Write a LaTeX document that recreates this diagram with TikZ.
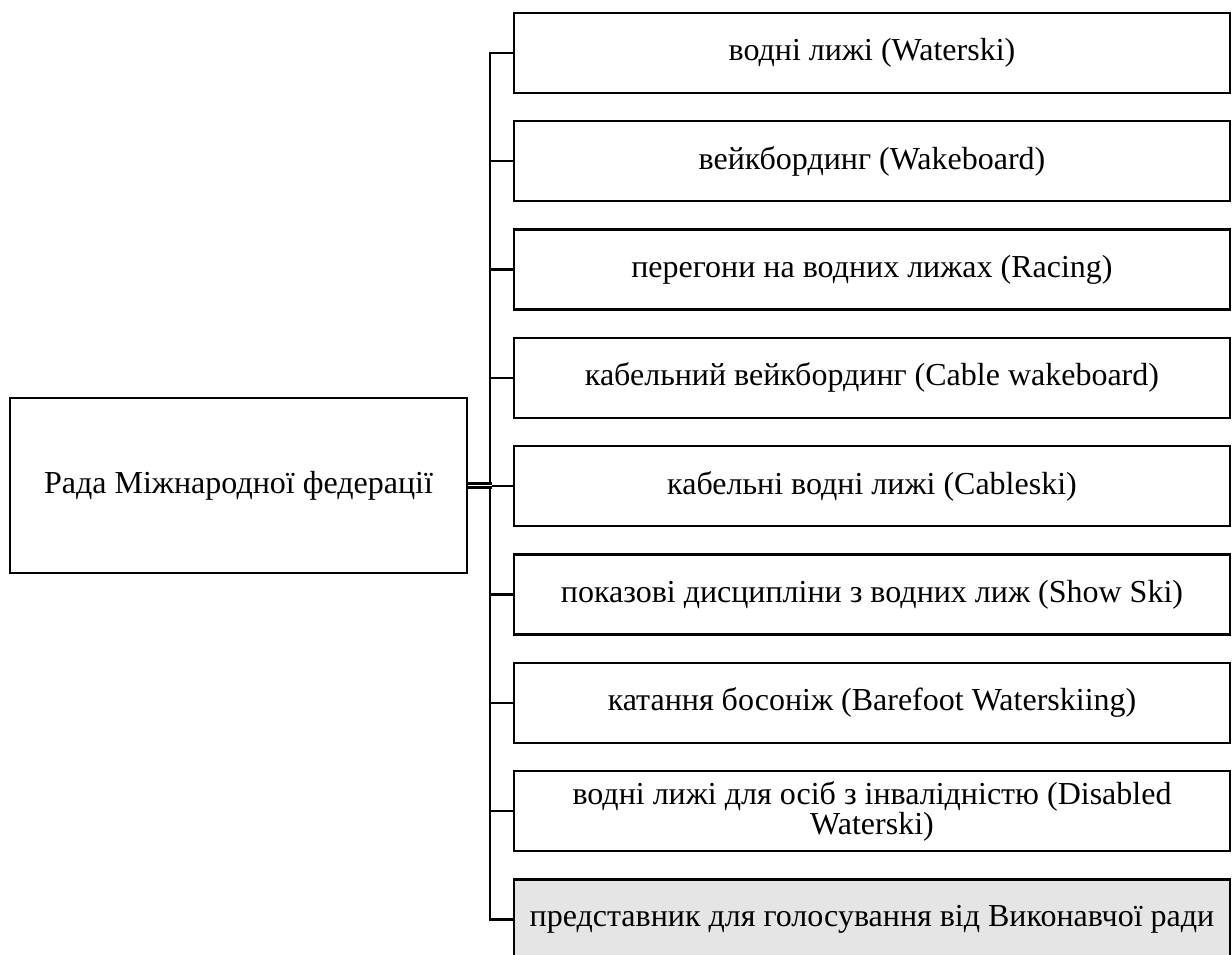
\documentclass[tikz,border=0pt]{standalone}
\usepackage{fontspec}
\setmainfont{Liberation Serif}
\usetikzlibrary{
	positioning,
	calc
}

\begin{document}
\begin{tikzpicture}[
			font=\fontsize{32}{30}\selectfont,
			rada/.style={draw, line width=2.3pt, align=center, minimum width=457pt, minimum height=175pt, inner sep=0pt},
			vid/.style={draw, line width=2.3pt, align=center, minimum width=716pt, minimum height=80pt, inner sep=0pt},
			golos/.style={vid, fill=black!10},
			zv/.style={line width=2.3pt}
		]
		\useasboundingbox (0,0) rectangle (1232pt,-955pt);

		\node[rada] (rada) at (238.5pt,-485.5pt) {Рада Міжнародної федерації};

		\node[vid] (v1) at (872pt,-53pt) {водні лижі (Waterski)};
		\node[vid, below=26pt of v1] (v2) {вейкбординг (Wakeboard)};
		\node[vid, below=26pt of v2] (v3) {перегони на водних лижах (Racing)};
		\node[vid, below=26pt of v3] (v4) {кабельний вейкбординг (Cable wakeboard)};
		\node[vid, below=26pt of v4] (v5) {кабельні водні лижі (Cableski)};
		\node[vid, below=26pt of v5] (v6) {показові дисципліни з водних лиж (Show Ski)};
		\node[vid, below=26pt of v6] (v7) {катання босоніж (Barefoot Waterskiing)};
		\node[vid, below=26pt of v7] (v8) {водні лижі для осіб з інвалідністю (Disabled\\ Waterski)};
		\node[golos, below=26pt of v8] (v9) {представник для голосування від Виконавчої ради};

		% шина зліва від підрозділів
		\draw[zv] (v1.west) -- ++(-23pt,0) |- (v9.west);
		\foreach \i in {2,...,8}
			\draw[zv] (v\i.west) -- ++(-23pt,0);

		\draw[zv, double, double distance=1.5pt] (rada.east) -- ++(24pt,0);
	\end{tikzpicture}
\end{document}
